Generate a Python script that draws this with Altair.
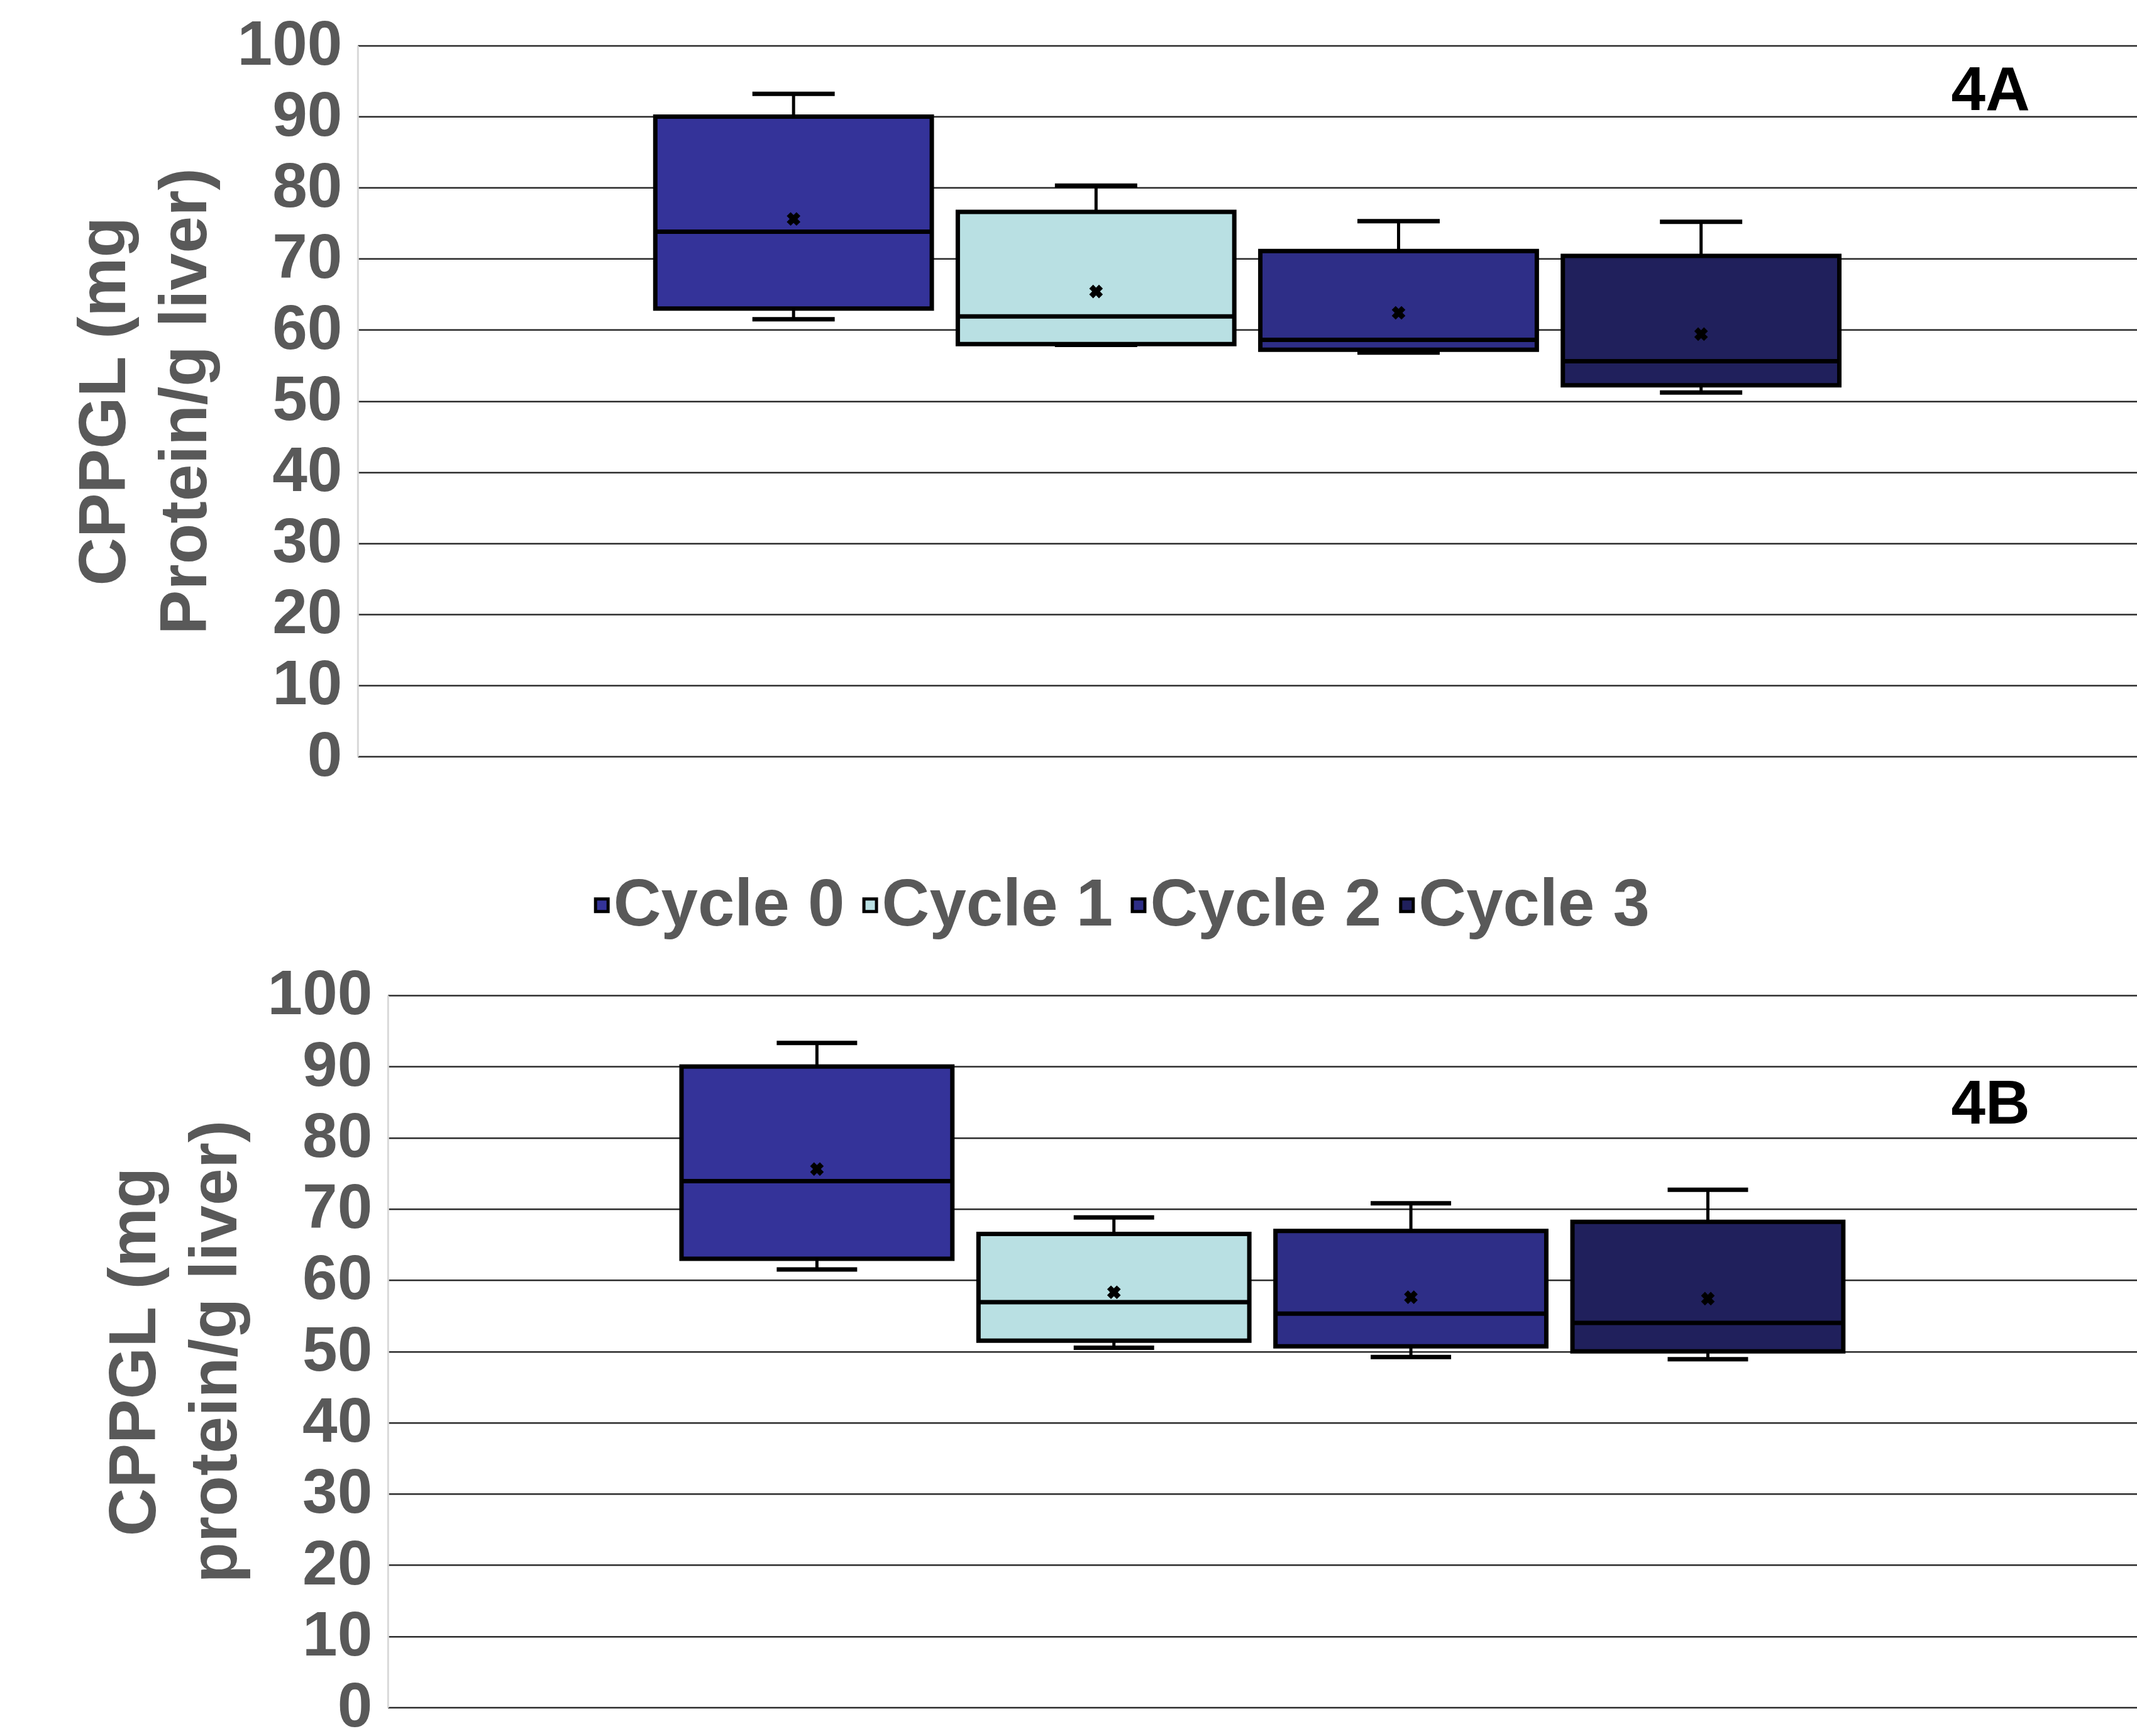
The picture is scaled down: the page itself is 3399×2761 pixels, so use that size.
import altair as alt
import pandas as pd

FONT = "Liberation Sans"
GRAY = "#595959"

cycles = ["Cycle 0", "Cycle 1", "Cycle 2", "Cycle 3"]
cycle_colors = ["#343399", "#B9E0E3", "#2E2E87", "#20205C"]
y_ticks = list(range(0, 101, 10))
panel_labels = ["4A", "4B"]

# Panel 4A: whisker ends, quartiles, median and mean per cycle
a_low = [61.5, 57.9, 56.8, 51.2]
a_q1 = [63.0, 58.0, 57.2, 52.2]
a_median = [73.8, 61.9, 58.6, 55.6]
a_q3 = [90.0, 76.6, 71.1, 70.4]
a_high = [93.2, 80.3, 75.3, 75.2]
a_mean = [75.6, 65.4, 62.4, 59.4]
a_title = ["CPPGL (mg", "Protein/g liver)"]

# Panel 4B
b_low = [61.5, 50.5, 49.2, 48.9]
b_q1 = [63.0, 51.5, 50.7, 50.0]
b_median = [73.9, 56.9, 55.3, 54.0]
b_q3 = [90.0, 66.5, 66.9, 68.2]
b_high = [93.3, 68.8, 70.8, 72.7]
b_mean = [75.6, 58.3, 57.6, 57.4]
b_title = ["CPPGL (mg", "protein/g liver)"]


def summary_frame(low, q1, median, q3, high, mean):
    return pd.DataFrame({
        "cycle": cycles, "low": low, "q1": q1, "median": median,
        "q3": q3, "high": high, "mean": mean,
    })


def panel(df, label, title, width, height, x_range, pad_inner, pad_outer,
          box_w, cap_w, axis_offset, label_y, legend):
    base = alt.Chart(df)
    x = alt.X("cycle:N", sort=cycles, axis=None,
              scale=alt.Scale(range=x_range, paddingInner=pad_inner,
                              paddingOuter=pad_outer))
    yscale = alt.Scale(domain=[0, 100], nice=False)
    yaxis = alt.Axis(
        values=y_ticks, title=title, offset=axis_offset,
        titleFont=FONT, titleFontSize=106, titleFontWeight="bold",
        titleColor=GRAY, titlePadding=28, titleLineHeight=129, titleLimit=3000,
        labelFont=FONT, labelFontSize=100, labelFontWeight="bold",
        labelColor=GRAY, labelPadding=25, labelLimit=600,
        ticks=False, domainColor="#D9D9D9", domainWidth=3,
        gridColor="#2B2B2B", gridWidth=2.5,
    )

    whisker = base.mark_rule(color="black", strokeWidth=5).encode(
        x=x, y=alt.Y("low:Q", scale=yscale, axis=yaxis), y2="high:Q")
    box = base.mark_bar(stroke="black", strokeWidth=7).encode(
        x=x, y=alt.Y("q1:Q", scale=yscale, axis=yaxis), y2="q3:Q",
        color=alt.Color("cycle:N", sort=cycles,
                        scale=alt.Scale(domain=cycles, range=cycle_colors),
                        legend=legend))
    cap_hi = base.mark_tick(color="black", thickness=7, size=cap_w, opacity=1).encode(
        x=x, y=alt.Y("high:Q", scale=yscale, axis=yaxis))
    cap_lo = base.mark_tick(color="black", thickness=7, size=cap_w, opacity=1).encode(
        x=x, y=alt.Y("low:Q", scale=yscale, axis=yaxis))
    med = base.mark_tick(color="black", thickness=7, size=box_w, opacity=1).encode(
        x=x, y=alt.Y("median:Q", scale=yscale, axis=yaxis))
    mean = base.mark_point(shape="cross", angle=45, filled=True, color="black",
                           size=480, opacity=1).encode(
        x=x, y=alt.Y("mean:Q", scale=yscale, axis=yaxis))
    tag = alt.Chart(pd.DataFrame({"panel": [label]})).mark_text(
        font=FONT, fontSize=98, fontWeight="bold", color="black",
        align="center", baseline="middle").encode(
        text="panel:N", x=alt.value(2598), y=alt.value(label_y))

    return alt.layer(whisker, cap_hi, cap_lo, box, med, mean, tag).properties(
        width=width, height=height)


top = panel(summary_frame(a_low, a_q1, a_median, a_q3, a_high, a_mean),
            panel_labels[0], a_title, 2831, 1131, [0, 2831], 0.086, 0.984,
            440, 131, 0, 74, None)

# legend entries sit tight together: symbols and labels are pulled left
# inside each entry so the entries pack closely
legend_b = alt.Legend(
    orient="none", legendX=348, legendY=-196, direction="horizontal",
    title=None, padding=0, symbolType="square", symbolSize=400,
    symbolStrokeColor="black", symbolStrokeWidth=5, symbolOpacity=1,
    symbolOffset={"expr": "-12"},
    labelFont=FONT, labelFontSize=105, labelFontWeight="bold",
    labelColor=GRAY, labelOffset={"expr": "-34"}, labelLimit=1000,
    columnPadding=0,
)

bottom = panel(summary_frame(b_low, b_q1, b_median, b_q3, b_high, b_mean),
               panel_labels[1], b_title, 2831, 1133, [48, 2831], 0.088, 0.989,
               431, 128, -48, 175, legend_b)

chart = (
    alt.vconcat(top, bottom, spacing=134)
    .resolve_scale(color="independent")
    .properties(padding={"left": 113, "top": 22, "right": 0, "bottom": 0},
                background="white")
    .configure_view(strokeWidth=0)
)

chart.save("out.html", embed_options={"renderer": "svg", "actions": False})
